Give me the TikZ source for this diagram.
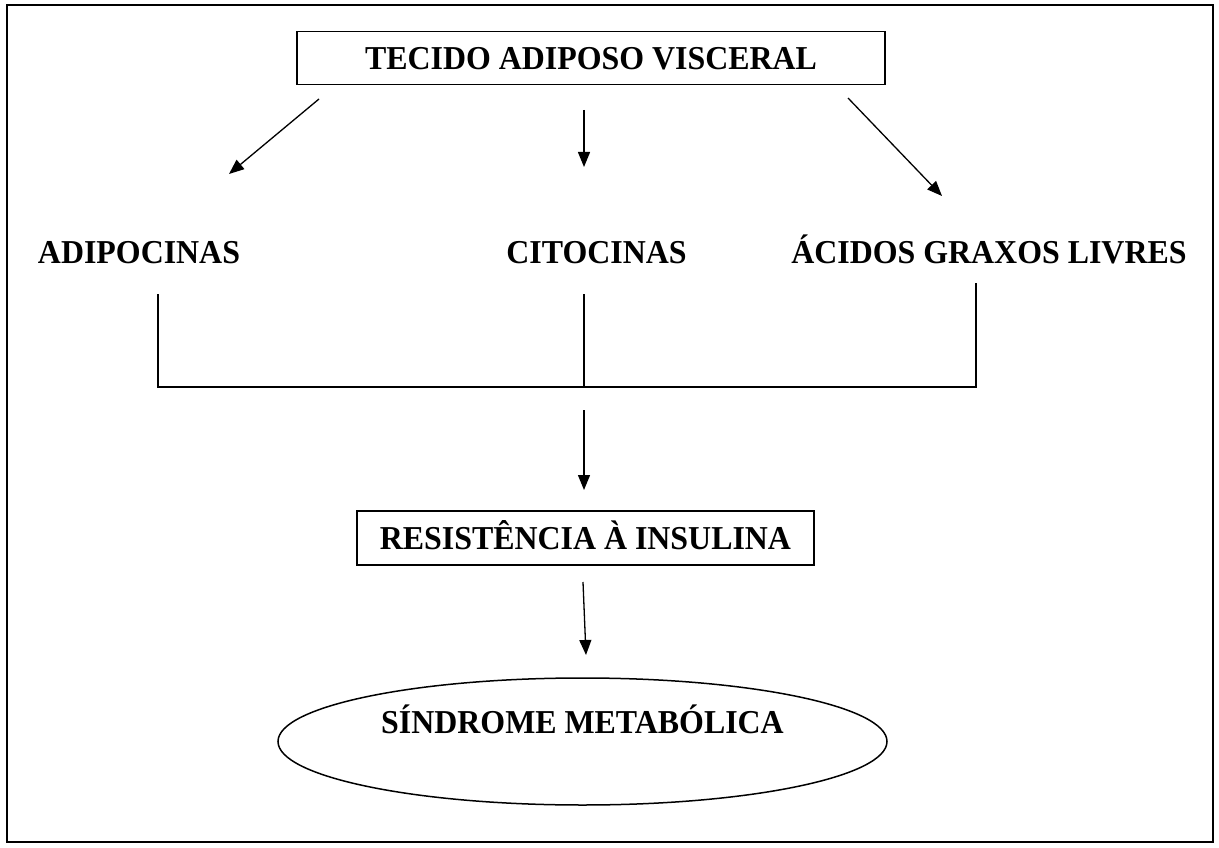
\documentclass[tikz,border=0pt]{standalone}
\usepackage{fontspec}
\setmainfont{Liberation Serif}[FakeStretch=0.955]
\usetikzlibrary{arrows.meta,shapes.geometric}
\begin{document}
\begin{tikzpicture}[x=1pt,y=-1pt,
  txt/.style={font=\fontsize{33.4}{40}\selectfont\bfseries, text height=22.1pt, text depth=0pt, inner sep=0pt},
  boxn/.style={txt, draw, line width=1.8pt, rectangle},
  ln/.style={line width=1.3pt},
  arr/.style={ln, -{Triangle[length=15pt,width=12pt]}}]
\fill[white] (0,0) rectangle (1219,848);
\useasboundingbox (0,0) rectangle (1219,848);
\draw[line width=2pt] (6.5,5.5) rectangle (1213,842);

\node[boxn, minimum width=588pt, minimum height=53pt] (tav) at (591,58) {TECIDO ADIPOSO VISCERAL};
\node[txt] (adi) at (139,252) {ADIPOCINAS};
\node[txt] (cit) at (596.5,252) {CITOCINAS};
\node[txt] (agl) at (989,252) {ÁCIDOS GRAXOS LIVRES};
\node[boxn, minimum width=457pt, minimum height=54pt] (ri) at (585.5,538) {RESISTÊNCIA À INSULINA};
\node[txt, ellipse, draw, line width=1.5pt, text depth=39.1pt, minimum width=609pt, minimum height=127pt] (sm) at (582.5,741.5) {SÍNDROME METABÓLICA};

\coordinate (a1s) at (319,99);  \coordinate (a1e) at (229,174);
\coordinate (a2s) at (584,110); \coordinate (a2e) at (584,167);
\coordinate (a3s) at (848,98);  \coordinate (a3e) at (942,196);
\coordinate (b1) at (158,294);  \coordinate (b2) at (584,294);
\coordinate (b3) at (976,283);  \coordinate (bj) at (584,387);
\coordinate (a4s) at (584,410); \coordinate (a4e) at (584,490);
\coordinate (a5s) at (583,582); \coordinate (a5e) at (586,655);

\draw[arr] (a1s) -- (a1e);
\draw[arr] (a2s) -- (a2e);
\draw[arr] (a3s) -- (a3e);
\draw[ln] (b1) -- (b1 |- bj) -- (b3 |- bj) -- (b3);
\draw[ln] (b2) -- (bj);
\draw[arr] (a4s) -- (a4e);
\draw[arr] (a5s) -- (a5e);
\end{tikzpicture}
\end{document}
